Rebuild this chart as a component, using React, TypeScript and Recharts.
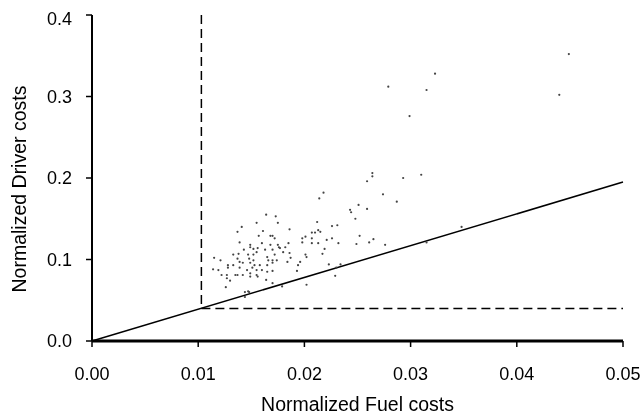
import React from 'react';
import {
  ReferenceLine,
  Scatter,
  ScatterChart,
  XAxis,
  YAxis,
} from 'recharts';

const fuelCosts = [
  0.0164, 0.0173, 0.0141, 0.0155, 0.0175, 0.0137, 0.0161, 0.0157, 0.0168, 0.0170,
  0.0186, 0.0139, 0.0172, 0.0149, 0.0149, 0.0160, 0.0168, 0.0175, 0.0185, 0.0143,
  0.0152, 0.0156, 0.0138, 0.0133, 0.0147, 0.0152, 0.0155, 0.0163, 0.0170, 0.0177,
  0.0180, 0.0115, 0.0121, 0.0137, 0.0148, 0.0152, 0.0165, 0.0166, 0.0172, 0.0170,
  0.0174, 0.0186, 0.0187, 0.0128, 0.0133, 0.0139, 0.0142, 0.0149, 0.0153, 0.0158,
  0.0165, 0.0170, 0.0184, 0.0194, 0.0114, 0.0128, 0.0139, 0.0146, 0.0151, 0.0155,
  0.0160, 0.0165, 0.0170, 0.0193, 0.0119, 0.0122, 0.0127, 0.0135, 0.0137, 0.0142,
  0.0149, 0.0155, 0.0127, 0.0130, 0.0149, 0.0156, 0.0164, 0.0170, 0.0126, 0.0144,
  0.0147, 0.0148, 0.0144, 0.0179, 0.0202, 0.0198, 0.0198, 0.0201, 0.0207, 0.0210,
  0.0212, 0.0207, 0.0207, 0.0213, 0.0215, 0.0213, 0.0221, 0.0226, 0.0231, 0.0226,
  0.0232, 0.0219, 0.0217, 0.0201, 0.0202, 0.0196, 0.0223, 0.0230, 0.0229, 0.0234,
  0.0182, 0.0176, 0.0264, 0.0264, 0.0259, 0.0293, 0.0310, 0.0274, 0.0287, 0.0218,
  0.0214, 0.0243, 0.0244, 0.0251, 0.0259, 0.0248, 0.0252, 0.0249, 0.0261, 0.0265,
  0.0276, 0.0315, 0.0323, 0.0279, 0.0315, 0.0299, 0.0440, 0.0449, 0.0348,
];

const driverCosts = [
  0.155, 0.153, 0.140, 0.145, 0.145, 0.134, 0.135, 0.129, 0.129, 0.129,
  0.137, 0.121, 0.126, 0.118, 0.115, 0.120, 0.118, 0.118, 0.120, 0.112,
  0.113, 0.114, 0.107, 0.106, 0.106, 0.106, 0.109, 0.112, 0.112, 0.114,
  0.109, 0.102, 0.099, 0.101, 0.101, 0.099, 0.103, 0.099, 0.106, 0.099,
  0.099, 0.108, 0.102, 0.093, 0.093, 0.097, 0.096, 0.096, 0.093, 0.093,
  0.093, 0.096, 0.097, 0.093, 0.088, 0.090, 0.090, 0.087, 0.090, 0.087,
  0.087, 0.085, 0.086, 0.086, 0.087, 0.081, 0.081, 0.081, 0.081, 0.081,
  0.083, 0.081, 0.077, 0.074, 0.079, 0.079, 0.075, 0.071, 0.066, 0.060,
  0.061, 0.060, 0.054, 0.067, 0.069, 0.126, 0.121, 0.128, 0.133, 0.133,
  0.146, 0.126, 0.120, 0.136, 0.134, 0.120, 0.124, 0.141, 0.142, 0.126,
  0.120, 0.113, 0.107, 0.106, 0.103, 0.097, 0.094, 0.090, 0.080, 0.094,
  0.115, 0.115, 0.206, 0.202, 0.196, 0.200, 0.204, 0.180, 0.171, 0.182,
  0.175, 0.161, 0.158, 0.167, 0.162, 0.150, 0.129, 0.119, 0.121, 0.125,
  0.118, 0.121, 0.328, 0.312, 0.308, 0.276, 0.302, 0.352, 0.140,
];

const xTicks = [0, 0.01, 0.02, 0.03, 0.04, 0.05];
const yTicks = [0, 0.1, 0.2, 0.3, 0.4];

// solid reference line through the origin, and the dashed threshold box corner
const diagonalEnd = { x: 0.05, y: 0.195 };
const fuelThreshold = 0.0103;
const driverThreshold = 0.04;

const points = fuelCosts.map((x, i) => ({ x, y: driverCosts[i] }));

const FAMILY = '"Liberation Sans", Arial, sans-serif';
const tickFont = { fontFamily: FAMILY, fontSize: 18, fill: '#000' };
const titleFont = { fontFamily: FAMILY, fontSize: 19.5, fill: '#000' };

const Dot = (props: any) => <circle cx={props.cx} cy={props.cy} r={1.1} fill="#444" />;

// rotated y title, sits a little below the plot's middle like the original
const YTitle = ({ viewBox }: any) => {
  const x = 11;
  const y = viewBox.y + viewBox.height / 2 + 11;
  return (
    <text
      x={x}
      y={y}
      transform={`rotate(-90, ${x}, ${y})`}
      textAnchor="middle"
      dominantBaseline="central"
      style={titleFont}
    >
      Normalized Driver costs
    </text>
  );
};

export default function App() {
  return (
    <div style={{ position: 'fixed', top: 8, left: 8 }}>
      <ScatterChart width={634} height={407} margin={{ top: 7, right: 19, left: 0, bottom: 0 }}>
        <XAxis
          type="number"
          dataKey="x"
          domain={[0, 0.05]}
          ticks={xTicks}
          tickFormatter={(v: number) => v.toFixed(2)}
          tick={tickFont}
          tickSize={6}
          tickMargin={20}
          tickLine={{ stroke: '#000', strokeWidth: 1.5 }}
          axisLine={{ stroke: '#000', strokeWidth: 3 }}
          height={74}
          allowDataOverflow
          label={{ value: 'Normalized Fuel costs', position: 'insideBottom', offset: 4, style: titleFont }}
        />
        <YAxis
          type="number"
          dataKey="y"
          domain={[0, 0.4]}
          ticks={yTicks}
          tickFormatter={(v: number) => v.toFixed(1)}
          tick={tickFont}
          tickSize={6}
          tickMargin={14}
          tickLine={{ stroke: '#000', strokeWidth: 1.5 }}
          axisLine={{ stroke: '#000', strokeWidth: 2 }}
          width={84}
          allowDataOverflow
          label={<YTitle />}
        />
        <ReferenceLine
          segment={[{ x: 0, y: 0 }, diagonalEnd]}
          stroke="#000"
          strokeWidth={1.5}
        />
        <ReferenceLine
          segment={[{ x: fuelThreshold, y: 0.4 }, { x: fuelThreshold, y: driverThreshold }]}
          stroke="#000"
          strokeWidth={1.5}
          strokeDasharray="9 5"
        />
        <ReferenceLine
          segment={[{ x: fuelThreshold, y: driverThreshold }, { x: 0.05, y: driverThreshold }]}
          stroke="#000"
          strokeWidth={1.5}
          strokeDasharray="9 5"
        />
        <Scatter data={points} shape={Dot} isAnimationActive={false} />
      </ScatterChart>
    </div>
  );
}
